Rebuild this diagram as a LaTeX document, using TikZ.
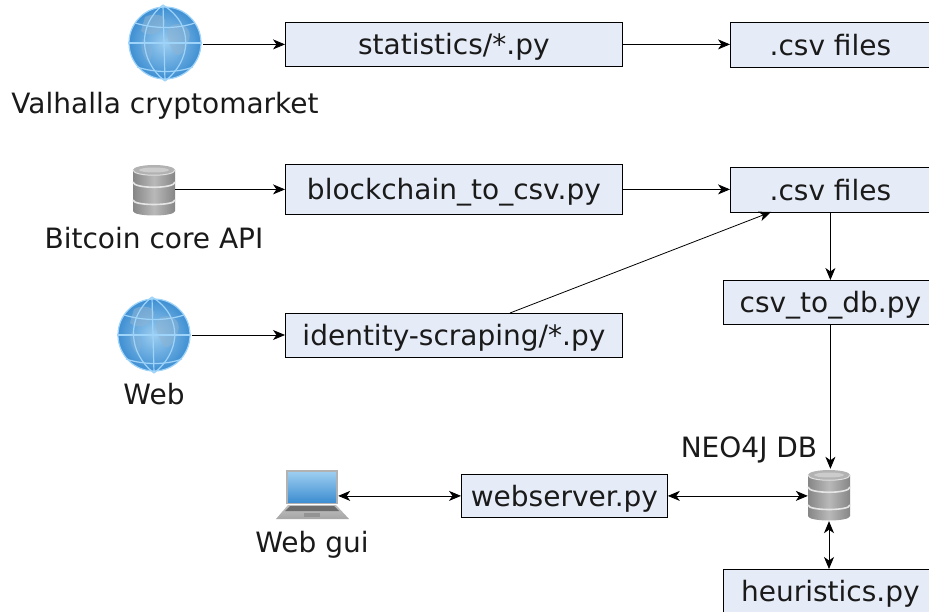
\documentclass[tikz,border=0pt]{standalone}
\usepackage{fontspec}
\setmainfont{DejaVu Sans}
\usetikzlibrary{arrows.meta,calc,positioning}
\definecolor{boxfill}{HTML}{E6ECF7}
\definecolor{inkc}{HTML}{1A1A1A}
\definecolor{globeA}{HTML}{9CCDF0}
\definecolor{globeB}{HTML}{3F8FD2}
\definecolor{globeL}{HTML}{9FD4FA}
\definecolor{landc}{HTML}{8FB4D2}
\tikzset{
  x=1pt,y=-1pt,
  pybox/.style={draw=black,line width=0.8pt,fill=boxfill,text=inkc,font=\fontsize{28}{32}\selectfont,inner sep=0pt,anchor=north west,text height=27pt,text depth=6pt},
  lab/.style={text=inkc,font=\fontsize{28}{32}\selectfont,inner sep=0pt,text height=27pt,text depth=6pt},
  conn/.style={draw=black,line width=0.8pt,-{Stealth[length=12pt,width=10pt,inset=3.5pt]}},
  biconn/.style={draw=black,line width=0.8pt,{Stealth[length=12pt,width=10pt,inset=3.5pt]}-{Stealth[length=12pt,width=10pt,inset=3.5pt]}},
  globeicon/.style={circle,minimum size=76pt,inner sep=0pt},
  dbicon/.style={rectangle,minimum width=42pt,minimum height=52pt,inner sep=0pt},
  lapicon/.style={rectangle,minimum width=60pt,minimum height=50pt,inner sep=0pt},
}
\newcommand{\mkbox}[6]{% name, x0,y0,x1,y1,text
  \node[pybox,minimum width={(#4-#2)*1pt},minimum height={(#5-#3)*1pt}] (#1) at (#2,#3) {#6};}
\newcommand{\globeat}[2]{%
 \begin{scope}[shift={(#1,#2)}]
  \shade[inner color=globeA,outer color=globeB] (0,0) circle[radius=36];
  \fill[landc,opacity=.55] (-20,-26) .. controls (-8,-32) and (6,-26) .. (-2,-16) .. controls (-8,-8) and (-16,-6) .. (-24,-12) -- cycle;
  \fill[landc,opacity=.55] (4,-16) .. controls (16,-24) and (28,-14) .. (24,-4) .. controls (22,8) and (12,18) .. (8,8) .. controls (4,0) and (0,-8) .. (4,-16) -- cycle;
  \fill[landc,opacity=.35] (-22,-4) .. controls (-14,-2) and (-10,8) .. (-16,20) .. controls (-22,14) and (-26,4) .. (-22,-4) -- cycle;
  \draw[globeL,line width=1.2pt] (0,0) circle[radius=36];
  \draw[globeL,line width=1.2pt] (-37,0) -- (37,0);
  \draw[globeL,line width=1.2pt] (-2,-38) -- (0,38);
  \draw[globeL,line width=1.2pt] (-2,-38) .. controls (-28,-18) and (-26,18) .. (0,38);
  \draw[globeL,line width=1.2pt] (-2,-38) .. controls (30,-18) and (26,18) .. (0,38);
  \draw[globeL,line width=1.2pt] (-30,-20) .. controls (-10,-14) and (12,-14) .. (30,-20);
  \draw[globeL,line width=1.2pt] (-28,24) .. controls (-10,30) and (12,30) .. (28,24);
 \end{scope}}
\newcommand{\dbat}[2]{%
 \begin{scope}[shift={(#1,#2)}]
  \shade[left color=gray!95,right color=gray!95,middle color=gray!55]
    (-21,-20) -- (-21,21) .. controls (-21,27) and (21,27) .. (21,21) -- (21,-20) -- cycle;
  \draw[gray!20,line width=1.6pt] (-21,-8) .. controls (-21,-1) and (21,-1) .. (21,-8);
  \draw[gray!20,line width=1.6pt] (-21,10) .. controls (-21,16) and (21,16) .. (21,10);
  \fill[gray!60] (0,-20) ellipse[x radius=21,y radius=5];
  \fill[gray!40] (0,-20) ellipse[x radius=15,y radius=2.5];
  \draw[gray!25,line width=1pt] (-21,-20) .. controls (-21,-13) and (21,-13) .. (21,-20);
 \end{scope}}
\begin{document}
\begin{tikzpicture}
\useasboundingbox (0,0) rectangle (929,612);
\clip (0,0) rectangle (929,612);
\fill[white] (0,0) rectangle (929,612);
% boxes
\mkbox{stats}{285}{22}{622}{66}{statistics/*.py}
\mkbox{csvA}{730}{22}{930}{67}{.csv files}
\mkbox{chain}{285}{164}{622}{214}{blockchain\_to\_csv.py}
\mkbox{csvB}{730}{167}{930}{212}{.csv files}
\mkbox{ident}{285}{313}{622}{357}{identity-scraping/*.py}
\mkbox{todb}{723}{280}{937}{324}{csv\_to\_db.py}
\mkbox{web}{461}{474}{667}{517}{webserver.py}
\mkbox{heur}{723}{569}{937}{613}{heuristics.py}
% icons
\globeat{165}{43}
\node[globeicon] (valhalla) at (165,43) {};
\globeat{154}{335}
\node[globeicon] (webicon) at (154,335) {};
\dbat{154}{190}
\node[dbicon] (btc) at (154,189) {};
\dbat{829}{495}
\node[dbicon] (neo) at (829,495) {};
% laptop
\begin{scope}
 \shade[top color=gray!50,bottom color=gray!70] (288,505) -- (336,505) -- (349,519) -- (276,519) -- cycle;
 \fill[gray!85!black] (290,506) -- (334,506) -- (339,511) -- (285,511) -- cycle;
 \fill[gray!85] (304,513) rectangle (320,517);
 \fill[gray!60] (286,470) rectangle (338,504);
 \shade[top color=globeA,bottom color=globeB] (288,472) rectangle (336,502);
\end{scope}
\node[lapicon] (laptop) at (308,494) {};
% labels
\node[lab] (lbV) at (165,103) {Valhalla cryptomarket};
\node[lab] (lbB) at (154,238) {Bitcoin core API};
\node[lab] (lbW) at (154,394) {Web};
\node[lab] (lbG) at (312,542) {Web gui};
\node[lab] (lbN) at (749,447) {NEO4J DB};
% connector helpers
\coordinate (idout) at (510,313);
\coordinate (csvin) at (771,212);
% connectors
\draw[conn] (valhalla.east |- stats.west) -- (stats.west);
\draw[conn] (stats.east) -- (stats.east -| csvA.west);
\draw[conn] (btc.east |- chain.west) -- (chain.west);
\draw[conn] (chain.east) -- (chain.east -| csvB.west);
\draw[conn] (webicon.east) -- (ident.west |- webicon.east);
\draw[conn] (idout) -- (csvin);
\draw[conn] (csvB.south) -- (csvB.south |- todb.north);
\draw[conn] (todb.south) -- (todb.south |- neo.north);
\draw[biconn] (laptop.east |- web.west) -- (web.west);
\draw[biconn] (web.east) -- (neo.west |- web.east);
\draw[biconn] (neo.south) -- (neo.south |- heur.north);
\end{tikzpicture}
\end{document}
